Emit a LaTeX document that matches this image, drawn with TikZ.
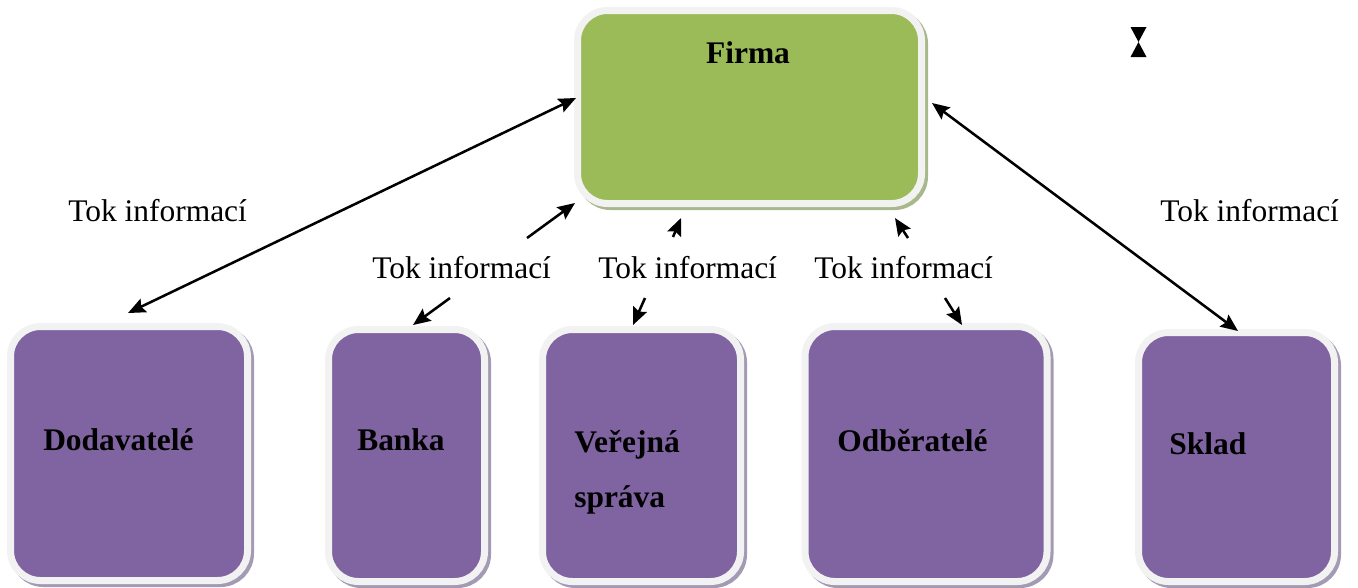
\documentclass[tikz,border=0pt]{standalone}
\usepackage{fontspec}
\setmainfont{Liberation Serif}
\usetikzlibrary{arrows.meta,shadows,calc}

\definecolor{cardpurple}{RGB}{128,100,162}
\definecolor{cardgreen}{RGB}{155,187,89}
\definecolor{cardrim}{RGB}{242,242,242}
\definecolor{shadepurple}{RGB}{164,154,180}
\definecolor{shadegreen}{RGB}{168,184,140}

\tikzset{
  card/.style={draw=cardrim, line width=5.25pt, rounded corners=22.5pt,
    inner sep=0pt},
  purplecard/.style={card, fill=cardpurple,
    general shadow={shadow xshift=2.25pt, shadow yshift=-2.25pt,
      draw=shadepurple, fill=shadepurple, line width=5.25pt}},
  greencard/.style={card, fill=cardgreen,
    general shadow={shadow xshift=2.25pt, shadow yshift=-2.25pt,
      draw=shadegreen, fill=shadegreen, line width=5.25pt}},
  cardtext/.style={inner sep=0pt, anchor=base west,
    font=\fontsize{23.6}{28}\selectfont\bfseries},
  flowtext/.style={inner sep=0pt, anchor=base west,
    font=\fontsize{23.6}{28}\selectfont},
  flowtip/.style={Stealth[length=13pt,width=11pt,inset=2pt]},
  flow/.style={line width=1.9pt, -{Stealth[length=13pt,width=11pt,inset=2pt]}},
  flowboth/.style={line width=1.9pt,
    {Stealth[length=13pt,width=11pt,inset=2pt]}-{Stealth[length=13pt,width=11pt,inset=2pt]}},
}

\begin{document}
\begin{tikzpicture}[x=0.75pt,y=-0.75pt]
\useasboundingbox (0,0) rectangle (1358,587);

% boxes
\node[greencard, minimum width=258pt, minimum height=144.75pt] (firma) at (749.5,107) {};
\node[purplecard, minimum width=177.75pt, minimum height=190.5pt] (dod) at (129,453.5) {};
\node[purplecard, minimum width=117pt, minimum height=189pt] (banka) at (406.5,455.5) {};
\node[purplecard, minimum width=148.5pt, minimum height=189pt] (verejna) at (641.5,455.5) {};
\node[purplecard, minimum width=181.5pt, minimum height=191.25pt] (odb) at (926,454) {};
\node[purplecard, minimum width=147pt, minimum height=186.75pt] (sklad) at (1236.5,457) {};

% box titles
\node[cardtext, anchor=base] (tfirma) at (748,63) {Firma};
\node[cardtext] (tdod) at (43,450) {Dodavatelé};
\node[cardtext] (tbanka) at (357,450) {Banka};
\node[cardtext] (tverejna) at (574,452) {Veřejná};
\node[cardtext] (tsprava) at (574,507) {správa};
\node[cardtext] (todb) at (837,451) {Odběratelé};
\node[cardtext] (tsklad) at (1169,454) {Sklad};

% flow labels
\node[flowtext] (fl1) at (68,221) {Tok informací};
\node[flowtext] (fl2) at (372,278) {Tok informací};
\node[flowtext] (fl3) at (598,278) {Tok informací};
\node[flowtext] (fl4) at (814,278) {Tok informací};
\node[flowtext] (fl5) at (1160,221) {Tok informací};

% loose ends of the short arrows beside the labels
\coordinate (b1) at (527,238);
\coordinate (b2) at (450,298);
\coordinate (v1) at (673,237);
\coordinate (v2) at (645,298);
\coordinate (o1) at (908,238);
\coordinate (o2) at (945,298);

% connectors
\draw[flowboth] ($(firma.west)+(2,-9)$) -- ($(dod.north)+(-1,-10)$);
\draw[flowboth] ($(firma.east)+(7,-4)$) -- ($(sklad.north)+(1.5,2)$);
\draw[flow] (b1) -- ($(firma.south west)+(1,-4)$);
\draw[flow] (b2) -- ($(banka.north)+(6.5,-1)$);
\draw[flow] (v1) -- ($(firma.south)+(-68.5,11)$);
\draw[flow] (v2) -- ($(verejna.north)+(-8.5,-1)$);
\draw[flow] (o1) -- ($(firma.south)+(145.5,11)$);
\draw[flow] (o2) -- ($(odb.north)+(36,2)$);

% small hourglass mark
\fill (1130.5,27) -- (1146.5,27) -- (1138.5,42) -- cycle;
\fill (1130.5,57) -- (1146.5,57) -- (1138.5,42) -- cycle;
\end{tikzpicture}
\end{document}
